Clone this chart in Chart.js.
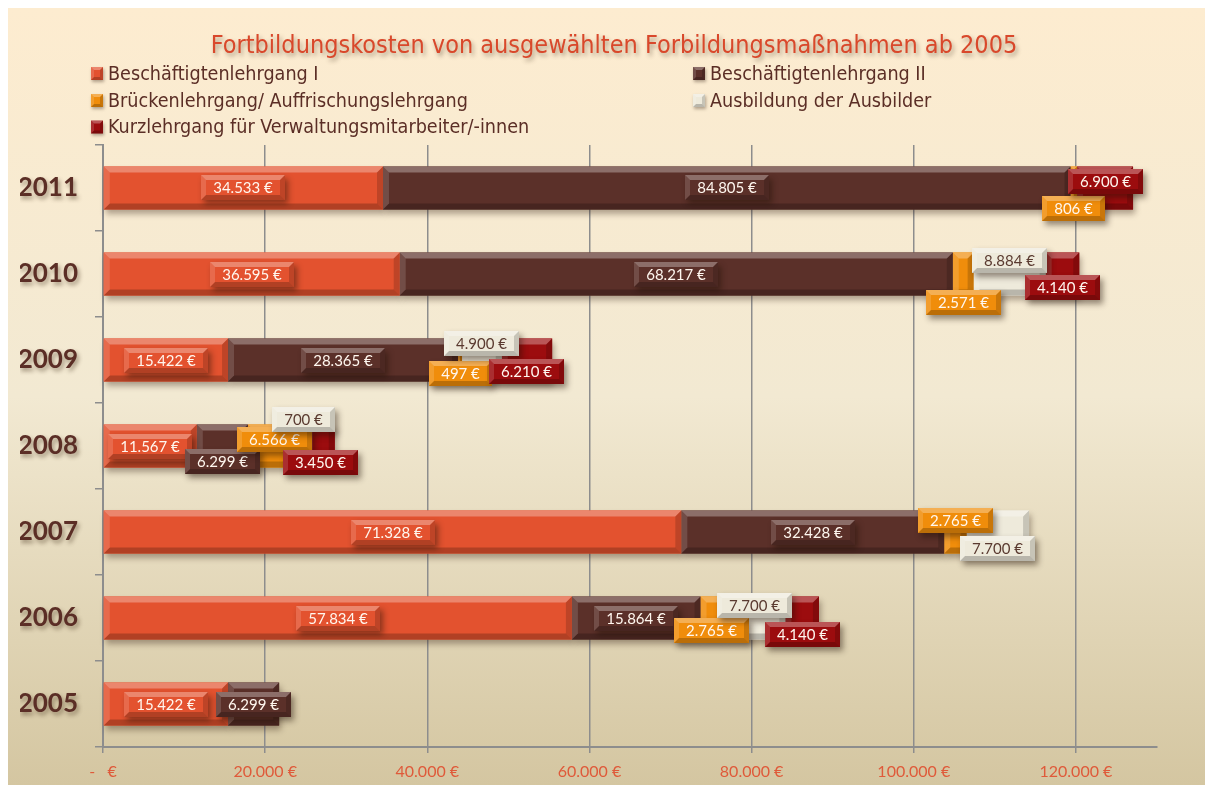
<!DOCTYPE html>
<html>
<head>
<meta charset="utf-8">
<title>Fortbildungskosten</title>
<script src="https://cdn.jsdelivr.net/npm/chart.js@4.4.1/dist/chart.umd.min.js"></script>
<style>
  html, body { margin: 0; padding: 0; background: #ffffff; overflow: hidden; }
  #wrap { position: absolute; left: 8px; top: 8px; width: 1197px; height: 777px; }
</style>
</head>
<body>
<div id="wrap"><canvas id="chart" width="1197" height="777"></canvas></div>
<script>
// Jahre (Kategorien) und Kosten je Maßnahme in Euro
const years = ['2005', '2006', '2007', '2008', '2009', '2010', '2011'];
const beschaeftigtenI  = [15422, 57834, 71328, 11567, 15422, 36595, 34533];
const beschaeftigtenII = [6299, 15864, 32428, 6299, 28365, 68217, 84805];
const bruecken         = [null, 2765, 2765, 6566, 497, 2571, 806];
const ausbilder        = [null, 7700, 7700, 700, 4900, 8884, null];
const kurzlehrgang     = [null, 4140, null, 3450, 6210, 4140, 6900];
const xTickValues      = [0, 20000, 40000, 60000, 80000, 100000, 120000];

const seriesNames = [
  'Beschäftigtenlehrgang I',
  'Beschäftigtenlehrgang II',
  'Brückenlehrgang/ Auffrischungslehrgang',
  'Ausbildung der Ausbilder',
  'Kurzlehrgang für Verwaltungsmitarbeiter/-innen'
];
const seriesColors = ['#e3522f', '#5b3029', '#f08d0b', '#eeeadb', '#9c0c0e'];
const labelTextColors = ['#fff7ef', '#fff7ef', '#fff7ef', '#5a3a30', '#fff7ef'];

// vertical nudge (px) of each value badge so that small segments stay readable
const badgeNudge = [
  [0, 0, 0, 0, 0, 0, 0],
  [0, 0, 0, 15, 0, 0, 0],
  [0, 12, -12, -7, 13, 28, 21],
  [0, -13, 16, -27, -17, -14, 0],
  [0, 16, 0, 16, 11, 13, -6]
];

const seriesData = [beschaeftigtenI, beschaeftigtenII, bruecken, ausbilder, kurzlehrgang];

function fmtEuro(v) {
  return String(v).replace(/\B(?=(\d{3})+(?!\d))/g, '.') + ' €';
}

function poly(ctx, pts, fill) {
  ctx.beginPath();
  ctx.moveTo(pts[0][0], pts[0][1]);
  for (let i = 1; i < pts.length; i++) ctx.lineTo(pts[i][0], pts[i][1]);
  ctx.closePath();
  ctx.fillStyle = fill;
  ctx.fill();
}

// bevelled highlight/shade on top of a filled rectangle
function bevel(ctx, x, y, w, h, b, strength) {
  const s = strength || 1;
  const bb = Math.max(0, Math.min(b, w / 2, h / 2));
  poly(ctx, [[x, y], [x + w, y], [x + w - bb, y + bb], [x + bb, y + bb]], `rgba(255,255,255,${0.30 * s})`);
  poly(ctx, [[x, y + h], [x + w, y + h], [x + w - bb, y + h - bb], [x + bb, y + h - bb]], `rgba(0,0,0,${0.22 * s})`);
  poly(ctx, [[x, y], [x + bb, y + bb], [x + bb, y + h - bb], [x, y + h]], `rgba(255,255,255,${0.14 * s})`);
  poly(ctx, [[x + w, y], [x + w - bb, y + bb], [x + w - bb, y + h - bb], [x + w, y + h]], `rgba(0,0,0,${0.16 * s})`);
}

function barRect(el) {
  const p = el.getProps(['x', 'y', 'base', 'height'], true);
  const x0 = Math.min(p.x, p.base), x1 = Math.max(p.x, p.base);
  return { x: x0, y: p.y - p.height / 2, w: x1 - x0, h: p.height, cx: (x0 + x1) / 2, cy: p.y };
}

const backgroundPlugin = {
  id: 'paperBackground',
  beforeDraw(chart) {
    const { ctx, width, height } = chart;
    const g = ctx.createLinearGradient(0, 0, 0, height);
    g.addColorStop(0, '#fdecd0');
    g.addColorStop(0.5, '#f2e9d2');
    g.addColorStop(1, '#d4c6a1');
    ctx.save();
    ctx.fillStyle = g;
    ctx.fillRect(0, 0, width, height);
    ctx.restore();
  }
};

// soft drop shadow for the year labels and the title; the title is centred over the plot
const shadowTextPlugin = {
  id: 'shadowText',
  afterUpdate(chart) {
    const ys = chart.scales.y;
    if (ys && !ys._shadowWrapped) {
      const orig = ys.drawLabels.bind(ys);
      ys.drawLabels = function (area) {
        const ctx = this.ctx;
        ctx.save();
        ctx.shadowColor = 'rgba(60,40,20,0.45)';
        ctx.shadowBlur = 4;
        ctx.shadowOffsetX = 2;
        ctx.shadowOffsetY = 3;
        orig(area);
        ctx.restore();
      };
      ys._shadowWrapped = true;
    }
    const tb = chart.titleBlock;
    if (tb && !tb._shadowWrapped) {
      const origT = tb.draw.bind(tb);
      tb.draw = function () {
        const ctx = this.ctx;
        const area = chart.chartArea;
        const target = (area.left + area.right) / 2 - 16;
        const dx = target - (this.left + this.right) / 2;
        ctx.save();
        ctx.translate(dx, 0);
        ctx.shadowColor = 'rgba(80,60,40,0.45)';
        ctx.shadowBlur = 4;
        ctx.shadowOffsetX = 2;
        ctx.shadowOffsetY = 3;
        origT();
        ctx.restore();
      };
      tb._shadowWrapped = true;
    }
  }
};

const bevelBarsPlugin = {
  id: 'bevelBars',
  beforeDatasetsDraw(chart) {
    const ctx = chart.ctx;
    ctx.save();
    ctx.shadowColor = 'rgba(40,20,10,0.35)';
    ctx.shadowBlur = 6;
    ctx.shadowOffsetX = 2;
    ctx.shadowOffsetY = 4;
    chart.data.datasets.forEach((ds, di) => {
      const meta = chart.getDatasetMeta(di);
      meta.data.forEach((el, i) => {
        if (ds.data[i] == null) return;
        const r = barRect(el);
        ctx.fillStyle = ds.backgroundColor;
        ctx.fillRect(r.x, r.y, r.w, r.h);
      });
    });
    ctx.restore();
  },
  afterDatasetsDraw(chart) {
    const ctx = chart.ctx;
    ctx.save();
    chart.data.datasets.forEach((ds, di) => {
      const meta = chart.getDatasetMeta(di);
      meta.data.forEach((el, i) => {
        if (ds.data[i] == null) return;
        const r = barRect(el);
        bevel(ctx, r.x, r.y, r.w, r.h, 6, 1);
      });
    });
    // value badges
    ctx.font = '15px Lato';
    ctx.textAlign = 'center';
    ctx.textBaseline = 'middle';
    chart.data.datasets.forEach((ds, di) => {
      const meta = chart.getDatasetMeta(di);
      meta.data.forEach((el, i) => {
        const v = ds.data[i];
        if (v == null) return;
        const r = barRect(el);
        const txt = fmtEuro(v);
        const tw = ctx.measureText(txt).width;
        const bw = Math.round(tw + 24), bh = 25;
        const bx = Math.round(r.cx - bw / 2);
        const by = Math.round(r.cy + badgeNudge[di][i] - bh / 2);
        ctx.save();
        ctx.shadowColor = 'rgba(30,15,5,0.45)';
        ctx.shadowBlur = 6;
        ctx.shadowOffsetX = 3;
        ctx.shadowOffsetY = 4;
        ctx.fillStyle = ds.backgroundColor;
        ctx.fillRect(bx, by, bw, bh);
        ctx.restore();
        bevel(ctx, bx, by, bw, bh, 5, 1);
        ctx.fillStyle = labelTextColors[di];
        ctx.fillText(txt, bx + bw / 2, by + bh / 2 + 1);
      });
    });
    ctx.restore();
  }
};

const legendPlugin = {
  id: 'twoColumnLegend',
  afterDraw(chart) {
    const ctx = chart.ctx;
    const cols = [83, 685];
    const rows = [65.5, 92.5, 119];
    ctx.save();
    ctx.font = '19.6px "DejaVu Sans Condensed"';
    ctx.textBaseline = 'middle';
    ctx.textAlign = 'left';
    seriesNames.forEach((name, i) => {
      const x = cols[i % 2];
      const y = rows[Math.floor(i / 2)];
      ctx.save();
      ctx.shadowColor = 'rgba(40,20,10,0.35)';
      ctx.shadowBlur = 3;
      ctx.shadowOffsetX = 1;
      ctx.shadowOffsetY = 2;
      ctx.fillStyle = seriesColors[i];
      ctx.fillRect(x, y - 6.5, 12, 13);
      ctx.restore();
      bevel(ctx, x, y - 6.5, 12, 13, 3, 1);
      ctx.fillStyle = '#5b2e26';
      ctx.fillText(name, x + 17, y + 1);
    });
    ctx.restore();
  }
};

const gridGrey = '#8d8d8d';

new Chart(document.getElementById('chart'), {
  type: 'bar',
  data: {
    labels: years,
    datasets: seriesData.map((d, i) => ({
      label: seriesNames[i],
      data: d,
      backgroundColor: seriesColors[i],
      borderWidth: 0,
      barPercentage: 0.5,
      categoryPercentage: 1.0
    }))
  },
  options: {
    indexAxis: 'y',
    responsive: false,
    animation: false,
    devicePixelRatio: 1,
    layout: { padding: { left: 12, right: 48, top: 0, bottom: 4 } },
    plugins: {
      legend: { display: false },
      tooltip: { enabled: false },
      title: {
        display: true,
        text: 'Fortbildungskosten von ausgewählten Forbildungsmaßnahmen ab 2005',
        color: '#d9482b',
        font: { family: '"DejaVu Sans Condensed"', size: 25, weight: 'normal', lineHeight: 1.2 },
        padding: { top: 23, bottom: 84 }
      }
    },
    scales: {
      x: {
        stacked: true,
        min: 0,
        max: 130000,
        afterBuildTicks(scale) {
          scale.ticks = xTickValues.map(v => ({ value: v }));
        },
        afterFit(scale) { scale.height = 34; },
        ticks: {
          color: '#df5a3a',
          font: { family: 'Lato', size: 16 },
          padding: 9,
          maxRotation: 0,
          callback: v => (v === 0 ? '-   €' : fmtEuro(v))
        },
        grid: { color: gridGrey, lineWidth: 1.5, tickLength: 6 },
        border: { color: gridGrey, width: 2 }
      },
      y: {
        stacked: true,
        reverse: true,
        afterFit(scale) { scale.width = 83; },
        ticks: {
          color: '#5b2e26',
          font: { family: 'Lato', size: 26, weight: 'bold' },
          padding: 17
        },
        grid: { offset: true, drawOnChartArea: false, tickLength: 8, color: gridGrey, lineWidth: 1.5 },
        border: { color: gridGrey, width: 2 }
      }
    }
  },
  plugins: [backgroundPlugin, shadowTextPlugin, bevelBarsPlugin, legendPlugin]
});
</script>
</body>
</html>
